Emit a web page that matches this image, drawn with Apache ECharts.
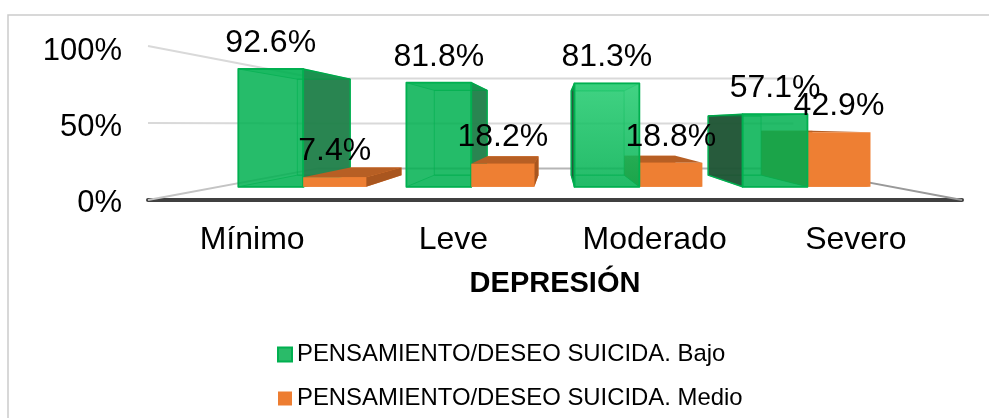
<!DOCTYPE html>
<html>
<head>
<meta charset="utf-8">
<style>html,body{margin:0;padding:0;background:#fff;overflow:hidden}#c{width:989px;height:418px}</style>
<script src="https://cdn.jsdelivr.net/npm/echarts@6/dist/echarts.min.js"></script>
</head>
<body>
<div id="c"></div>
<script>
const categories = ['Mínimo', 'Leve', 'Moderado', 'Severo'];
const bajo = [92.6, 81.8, 81.3, 57.1];
const medio = [7.4, 18.2, 18.8, 42.9];
const yTicks = [0, 50, 100];
const seriesNames = ['PENSAMIENTO/DESEO SUICIDA. Bajo', 'PENSAMIENTO/DESEO SUICIDA. Medio'];

const FONT = '"Liberation Sans", Arial, sans-serif';
const S_FRONT = 0.826, S_BACK = 0.673, S_WALL = 0.584;
const chart = echarts.init(document.getElementById('c'), null, { renderer: 'canvas' });

function vanish(api) {
  const c = api.coord([0, 49.35]);
  return [c[0] + api.size([1, 0])[0] * 1.509, c[1]];
}
function poly(points, fill, stroke, lw, z2) {
  return {
    type: 'polygon', z2: z2, silent: true,
    shape: { points: points },
    style: { fill: fill, stroke: stroke, lineWidth: lw, lineJoin: 'round' }
  };
}
function line(a, b, stroke, lw, z2) {
  return {
    type: 'line', z2: z2, silent: true,
    shape: { x1: a[0], y1: a[1], x2: b[0], y2: b[1] },
    style: { stroke: stroke, lineWidth: lw, fill: null }
  };
}
// A box: x is in grid pixels at the axis plane, y from the value scale.
function box(api, x0, x1, value, look, z2) {
  const V = vanish(api);
  const base = api.coord([0, 0])[1];
  const top = api.coord([0, value])[1];
  const p = (x, y, s) => [V[0] + s * (x - V[0]), V[1] + s * (y - V[1])];
  const fbl = p(x0, base, S_FRONT), fbr = p(x1, base, S_FRONT);
  const ftl = p(x0, top, S_FRONT), ftr = p(x1, top, S_FRONT);
  const bbl = p(x0, base, S_BACK), bbr = p(x1, base, S_BACK);
  const btl = p(x0, top, S_BACK), btr = p(x1, top, S_BACK);
  const kids = [];
  let z = z2;
  kids.push(poly([btl, btr, bbr, bbl], look.back, look.edgeBack, look.lwBack, z++));
  kids.push(poly([fbl, fbr, bbr, bbl], look.bottom, look.edgeBack, look.lwBack, z++));
  if (btr[0] > ftr[0]) kids.push(poly([ftr, btr, bbr, fbr], look.sideR, look.edge, look.lwSide, z++));
  if (btl[0] < ftl[0]) kids.push(poly([ftl, btl, bbl, fbl], look.sideL, look.edge, look.lwSide, z++));
  kids.push(poly([ftl, ftr, btr, btl], look.top, look.edgeBack, look.lwBack, z++));
  kids.push(poly([ftl, ftr, fbr, fbl], look.front, look.edge, look.lwFront, z++));
  return { type: 'group', children: kids, silent: true };
}

const greenLook = {
  back: 'rgba(0,176,80,0.05)', bottom: 'rgba(0,176,80,0.10)', top: 'rgba(0,176,80,0.30)',
  sideR: 'rgba(32,128,74,0.96)', sideL: 'rgba(30,84,52,0.96)',
  front: 'rgba(0,176,80,0.85)', edge: '#00B050', edgeBack: 'rgba(0,160,70,0.7)',
  lwFront: 1.8, lwSide: 1.4, lwBack: 0.9
};
const orangeLook = {
  back: '#ED7D31', bottom: '#ED7D31', top: '#B75F24',
  sideR: '#A9561F', sideL: '#B75F24',
  front: '#EE7F33', edge: 'rgba(237,125,49,0)', edgeBack: 'rgba(237,125,49,0)',
  lwFront: 0, lwSide: 0, lwBack: 0
};

const option = {
  animation: false,
  backgroundColor: '#fff',
  textStyle: { fontFamily: FONT },
  graphic: [{
    type: 'rect', silent: true, z: -1,
    shape: { x: 8, y: 15, width: 1000, height: 440 },
    style: { fill: null, stroke: '#CBCBCB', lineWidth: 1.5 }
  }],
  legend: {
    orient: 'vertical', left: 277, top: 342.5,
    data: seriesNames,
    icon: 'rect', itemWidth: 14, itemHeight: 14, itemGap: 20, padding: 0,
    textStyle: { fontFamily: FONT, fontSize: 23.9, color: '#000', padding: 0 }
  },
  grid: [
    { left: 148, width: 814, top: 46, height: 154 },
    { left: 151.5, width: 805, top: 51, height: 152.7 }
  ],
  xAxis: [
    {
      type: 'category', gridIndex: 0, data: categories,
      axisTick: { show: false }, axisLabel: { show: false },
      axisLine: { lineStyle: { color: '#404040', width: 4 } },
      name: 'DEPRESIÓN', nameLocation: 'middle', nameGap: 69,
      nameTextStyle: { fontFamily: FONT, fontSize: 29, fontWeight: 'bold', color: '#000' }
    },
    {
      type: 'category', gridIndex: 1, data: categories,
      axisTick: { show: false }, axisLine: { show: false },
      axisLabel: { fontFamily: FONT, fontSize: 32, color: '#000', margin: 20.3 }
    }
  ],
  yAxis: [
    {
      type: 'value', gridIndex: 0, min: 0, max: 100, interval: 50,
      axisLine: { show: false }, axisTick: { show: false }, splitLine: { show: false },
      axisLabel: { show: false }
    },
    {
      type: 'value', gridIndex: 1, min: 0, max: 100, interval: 50,
      axisLine: { show: false }, axisTick: { show: false }, splitLine: { show: false },
      axisLabel: { fontFamily: FONT, fontSize: 31, color: '#000', margin: 29.5, formatter: '{value}%' }
    }
  ],
  series: [
    {
      type: 'custom', name: 'walls', xAxisIndex: 0, yAxisIndex: 0, silent: true, clip: false,
      data: yTicks.map(v => [0, v]),
      renderItem: function (params, api) {
        const V = vanish(api);
        const w = api.size([1, 0])[0];
        const y = api.coord([0, api.value(1)])[1];
        const xL = api.coord([0, 0])[0] - w / 2, xR = xL + 4 * w;
        const p = (x, s) => [V[0] + s * (x - V[0]), V[1] + s * (y - V[1])];
        const a = p(xL, 1), b = p(xL, S_WALL), c = p(xR, S_WALL), d = p(xR, 1);
        const floor = api.value(1) === 0;
        const kids = [
          line(a, b, floor ? '#C4C4C4' : '#D9D9D9', 2, 0),
          line(b, c, floor ? '#B5B5B5' : '#D9D9D9', 2, 0)
        ];
        if (floor) kids.push(line(c, d, '#999999', 2, 0));
        return { type: 'group', children: kids, silent: true };
      }
    },
    {
      type: 'custom', name: seriesNames[0], xAxisIndex: 0, yAxisIndex: 0, silent: true, clip: false,
      itemStyle: { color: '#2ABB69', borderColor: '#00B050', borderWidth: 1.2 },
      data: bajo.map((v, i) => [i, v]),
      renderItem: function (params, api) {
        const i = api.value(0);
        const c = api.coord([i, 0])[0], w = api.size([1, 0])[0];
        const look = Object.assign({}, greenLook);
        if (i === 2) {
          look.front = new echarts.graphic.LinearGradient(0, 0, 0, 1, [
            { offset: 0, color: 'rgba(40,205,115,0.88)' },
            { offset: 1, color: 'rgba(0,176,80,0.85)' }
          ]);
        }
        const z = i < 2 ? 1 : 40;
        return box(api, c - 0.386 * w, c, api.value(1), look, z);
      }
    },
    {
      type: 'custom', name: seriesNames[1], xAxisIndex: 0, yAxisIndex: 0, silent: true, clip: false,
      itemStyle: { color: '#ED7D31' },
      data: medio.map((v, i) => [i, v]),
      renderItem: function (params, api) {
        const c = api.coord([api.value(0), 0])[0], w = api.size([1, 0])[0];
        return box(api, c, c + 0.375 * w, api.value(1), orangeLook, 20);
      }
    },
    {
      type: 'custom', name: 'etiquetas', xAxisIndex: 0, yAxisIndex: 0, silent: true, clip: false,
      data: bajo.map((v, i) => [i, v, 0]).concat(medio.map((v, i) => [i, v, 1])),
      renderItem: function (params, api) {
        const V = vanish(api);
        const w = api.size([1, 0])[0];
        const pt = api.coord([api.value(0), api.value(1)]);
        const dir = api.value(2) === 0 ? -0.193 : 0.1875;
        const x = V[0] + S_FRONT * (pt[0] + dir * w - V[0]);
        const y = V[1] + S_FRONT * (pt[1] - V[1]) - 26;
        return {
          type: 'text', z2: 80, silent: true,
          style: {
            x: x, y: y, text: api.value(1).toFixed(1) + '%',
            fill: '#000', font: '32px ' + FONT, align: 'center', verticalAlign: 'middle'
          }
        };
      }
    }
  ]
};
chart.setOption(option);
</script>
</body>
</html>
